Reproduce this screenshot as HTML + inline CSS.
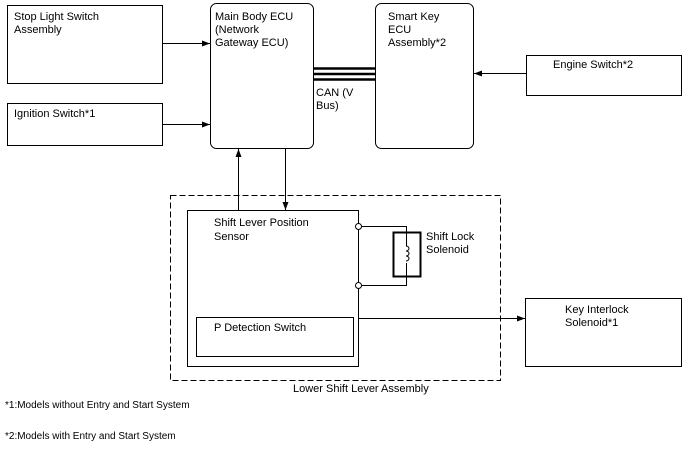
<!DOCTYPE html>
<html><head><style>body{margin:0;background:#fff}svg{display:block}text{font-family:"Liberation Sans",sans-serif;font-size:11px;fill:#000}</style></head>
<body>
<svg width="688" height="463" viewBox="0 0 688 463">
<defs><marker id="a" markerWidth="8" markerHeight="6" refX="8" refY="3" orient="auto" markerUnits="userSpaceOnUse"><path d="M0,0L8,3L0,6z" fill="#000"/></marker></defs>
<g fill="none" stroke="#000" stroke-width="1">
<rect x="7.5" y="5.5" width="155" height="78"/>
<rect x="7.5" y="103.5" width="155" height="42"/>
<rect x="210.5" y="3.5" width="103" height="145" rx="6"/>
<rect x="375.5" y="3.5" width="98" height="145" rx="6"/>
<rect x="526.5" y="55.5" width="155" height="40"/>
<line x1="162" y1="43.5" x2="210" y2="43.5" marker-end="url(#a)"/>
<line x1="162" y1="124.5" x2="210" y2="124.5" marker-end="url(#a)"/>
<line x1="526" y1="73.5" x2="474" y2="73.5" marker-end="url(#a)"/>
<line x1="238.5" y1="210" x2="238.5" y2="149" marker-end="url(#a)"/>
<line x1="285.5" y1="149" x2="285.5" y2="210" marker-end="url(#a)"/>
<rect x="170.5" y="195.5" width="330" height="185" stroke-dasharray="6,3"/>
<rect x="187.5" y="210.5" width="171" height="156"/>
<rect x="196.5" y="317.5" width="157" height="39"/>
<polyline points="358,226.5 406.5,226.5 406.5,285.5 358,285.5"/>
<rect x="393.5" y="232.5" width="27" height="44" stroke-width="2" fill="#fff"/>
<line x1="406.5" y1="232" x2="406.5" y2="246"/>
<line x1="406.5" y1="263" x2="406.5" y2="276"/>
<path d="M406,246 a3,2.5 0 1 1 0,5 a3,2.5 0 1 1 0,5 a3,2.5 0 1 1 0,5" />
<circle cx="358.5" cy="226.5" r="3" fill="#fff"/>
<circle cx="358.5" cy="285.5" r="3" fill="#fff"/>
<line x1="358" y1="318.5" x2="525" y2="318.5" marker-end="url(#a)"/>
<rect x="525.5" y="298.5" width="156" height="68"/>
</g>
<g stroke="#000" stroke-width="2.5"><line x1="314" y1="68.5" x2="375" y2="68.5"/><line x1="314" y1="74" x2="375" y2="74"/><line x1="314" y1="79.5" x2="375" y2="79.5"/></g>
<text x="14" y="20">Stop Light Switch</text><text x="14" y="33">Assembly</text>
<text x="14" y="117">Ignition Switch*1</text>
<text x="215" y="20">Main Body ECU</text><text x="215" y="33">(Network</text><text x="215" y="46">Gateway ECU)</text>
<text x="388" y="20">Smart Key</text><text x="388" y="33">ECU</text><text x="388" y="46">Assembly*2</text>
<text x="316" y="96">CAN (V</text><text x="316" y="109">Bus)</text>
<text x="553" y="68">Engine Switch*2</text>
<text x="214" y="226">Shift Lever Position</text><text x="214" y="240">Sensor</text>
<text x="426" y="240">Shift Lock</text><text x="426" y="253">Solenoid</text>
<text x="214" y="331">P Detection Switch</text>
<text x="565" y="313">Key Interlock</text><text x="565" y="326">Solenoid*1</text>
<text x="293" y="392">Lower Shift Lever Assembly</text>
<text x="5" y="408" style="font-size:10px">*1:Models without Entry and Start System</text>
<text x="5" y="439" style="font-size:10px">*2:Models with Entry and Start System</text>
</svg>
</body></html>
